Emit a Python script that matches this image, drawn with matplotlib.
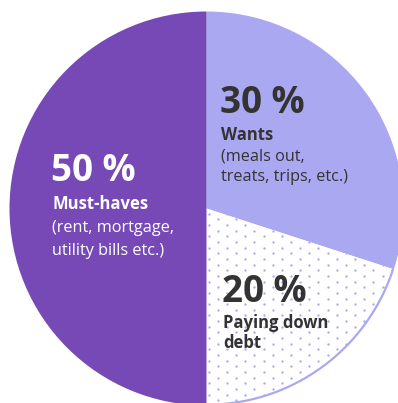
import numpy as np
import matplotlib
matplotlib.use("Agg")
import matplotlib.pyplot as plt

# budget split
labels = ["Wants", "Paying down\ndebt", "Must-haves"]
shares = [30, 20, 50]
notes = ["(meals out,\ntreats, trips, etc.)", "", "(rent, mortgage,\nutility bills etc.)"]

W, H = 398, 403
PURPLE = "#7749B6"
LAVENDER = "#ABA8F2"
DARK = "#333333"

fig = plt.figure(figsize=(W / 100, H / 100), dpi=100)
ax = fig.add_axes([0, 0, 1, 1])

def Y(py):
    # pixel row -> data y
    return H - py

cx, cy, r = 206.5, 208.5, 197
wedges, _ = ax.pie(shares, colors=[LAVENDER, "white", PURPLE], startangle=90,
                   counterclock=False, center=(cx, Y(cy)), radius=r,
                   wedgeprops=dict(linewidth=0), frame=True)
ax.set_xlim(0, W)
ax.set_ylim(0, H)
ax.set_aspect("equal")
ax.axis("off")

# outline of the debt arc
debt = wedges[1]
t = np.linspace(np.radians(debt.theta1), np.radians(debt.theta2), 200)
ax.plot(cx + (r - 0.8) * np.cos(t), Y(cy) + (r - 0.8) * np.sin(t),
        color=LAVENDER, lw=1.6, solid_capstyle="butt")

# dotted fill for the debt slice
xs, ys = [], []
for row in range(-40, 40):
    for col in range(-20, 20):
        if (row + col) % 2 == 0:
            xs.append(272.7 + 9.15 * col)
            ys.append(Y(355 + 5.65 * row))
dots = ax.scatter(xs, ys, s=2.8, color=LAVENDER, linewidths=0, zorder=3)
dots.set_clip_path(debt)

font = "Open Sans"


def block(x, base_pct, base_lines, share, label, note, color, gap=21.5):
    ax.text(x - 1, Y(base_pct), f"{share} %", color=color, fontsize=26.5,
            fontweight="bold", family=font)
    lines = [(l, "bold", 12) for l in label.split("\n")]
    lines += [(l, "normal", 11.7) for l in note.split("\n") if l]
    for i, (txt, wt, sz) in enumerate(lines):
        ax.text(x, Y(base_lines + i * gap), txt, color=color, fontsize=sz,
                fontweight=wt, family=font)


block(52, 181, 209, shares[2], labels[2], notes[2], "white", gap=23)
block(221, 113, 139.5, shares[0], labels[0], notes[0], DARK, gap=20.8)
block(223, 302, 328, shares[1], labels[1], notes[1], DARK, gap=19.5)

fig.savefig("out.png", dpi=100)
